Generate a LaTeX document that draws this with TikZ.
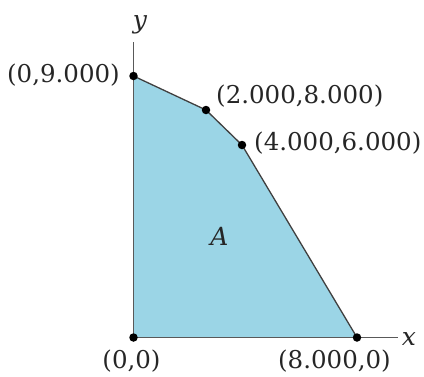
\documentclass[tikz,border=0pt]{standalone}
\usepackage{fontspec}
\setmainfont{DejaVu Serif}
\begin{document}
\begin{tikzpicture}[x=1pt,y=-1pt,
  axis/.style={draw=black!65,line width=1.3pt},
  edge/.style={draw=black!75,line width=1.3pt},
  region/.style={fill=regionblue},
  dot/.style={circle,fill=black,inner sep=0pt,minimum size=8.5pt},
  lbl/.style={inner sep=0pt,font=\fontsize{24.5}{26}\selectfont,text=black!85},
  var/.style={inner sep=0pt,font=\fontsize{25}{26}\selectfont\itshape,text=black!85}]
\definecolor{regionblue}{RGB}{155,213,230}
\useasboundingbox (0,0) rectangle (424,376);
\coordinate (O) at (133.5,337.5);
\coordinate (P1) at (133.5,76);
\coordinate (P2) at (206,110);
\coordinate (P3) at (242,145);
\coordinate (P4) at (357,337.5);
\coordinate (XE) at (398,337.5);
\coordinate (YE) at (133.5,42);
\path[region] (O) -- (P1) -- (P2) -- (P3) -- (P4) -- cycle;
\draw[axis] (O) -- (XE);
\draw[axis] (O) -- (YE);
\draw[edge] (P1) -- (P2) -- (P3) -- (P4);
\node[dot] (d0) at (O) {};
\node[dot] (d1) at (P1) {};
\node[dot] (d2) at (P2) {};
\node[dot] (d3) at (P3) {};
\node[dot] (d4) at (P4) {};
\node[var,anchor=base] (xl) at (409,345) {x};
\node[var,anchor=base] (yl) at (140,28) {y};
\node[var,anchor=base] (al) at (219.5,245) {A};
\node[lbl,anchor=base east] (l1) at (120,82) {(0,9.000)};
\node[lbl,anchor=base west] (l2) at (216,103) {(2.000,8.000)};
\node[lbl,anchor=base west] (l3) at (254,150) {(4.000,6.000)};
\node[lbl,anchor=base] (l0) at (131.5,368) {(0,0)};
\node[lbl,anchor=base] (l4) at (334.5,368) {(8.000,0)};
\end{tikzpicture}
\end{document}
